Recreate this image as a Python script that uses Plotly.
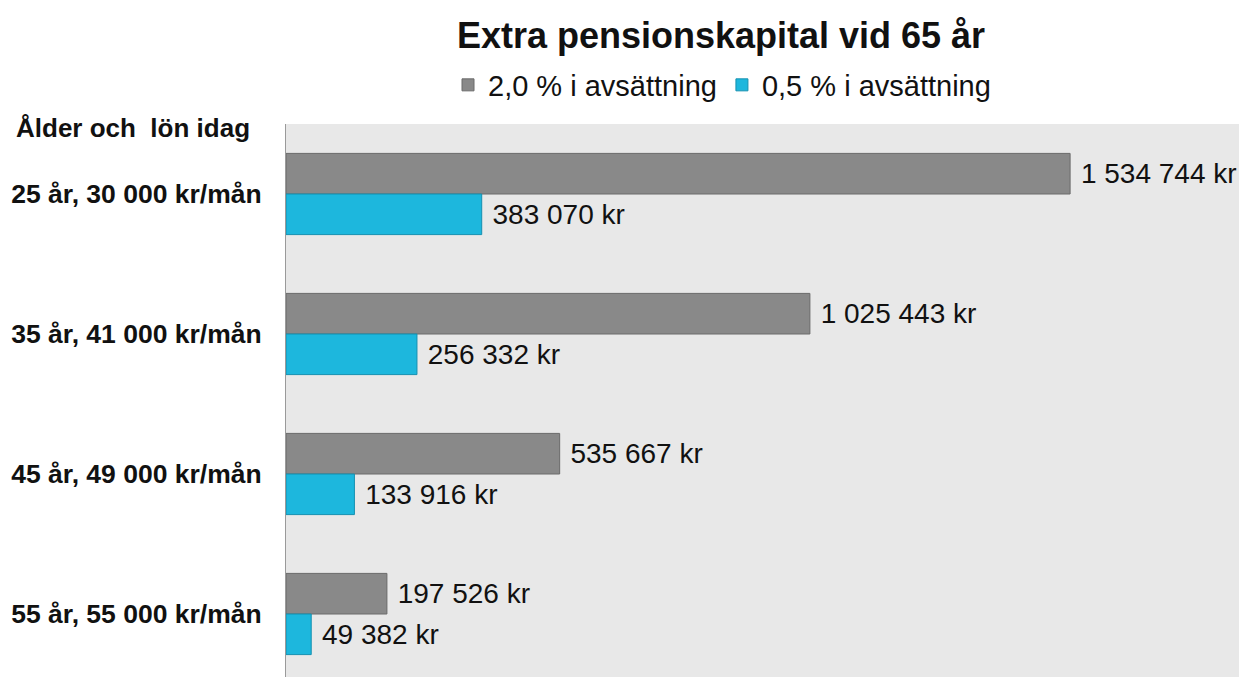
import plotly.graph_objects as go

categories = ["25 år, 30 000 kr/mån", "35 år, 41 000 kr/mån", "45 år, 49 000 kr/mån", "55 år, 55 000 kr/mån"]
series_names = ["2,0 % i avsättning", "0,5 % i avsättning"]
values_20 = [1534744, 1025443, 535667, 197526]
values_05 = [383070, 256332, 133916, 49382]
colors = ["#898989", "#1db7dd"]
line_colors = ["#6a6a6a", "#1590b0"]

def fmt(v):
    return "\u00a0" + f"{v:,}".replace(",", " ") + " kr"

W, H = 1239, 669  # page body has 8px margin

fig = go.Figure()
for name, vals, c, lc in zip(series_names, [values_20, values_05], colors, line_colors):
    fig.add_trace(go.Bar(
        y=categories, x=vals, name=name, orientation="h",
        marker=dict(color=c, line=dict(color=lc, width=1)),
        text=[fmt(v) for v in vals], textposition="outside",
        textfont=dict(size=28, color="#111111", family="Liberation Sans, Arial"),
        cliponaxis=False,
    ))

fig.update_layout(
    width=W, height=H,
    margin=dict(l=278, r=0, t=116, b=0, autoexpand=False),
    paper_bgcolor="white", plot_bgcolor="#e8e8e8",
    font=dict(family="Liberation Sans, Arial", color="#111111"),
    barmode="group", bargap=0.42, bargroupgap=0,
    title=dict(text="<b>Extra pensionskapital vid 65 år</b>", x=(721 - 8)/W, xanchor="center",
               xref="container", y=1 - 27/H, yref="container", yanchor="middle",
               font=dict(size=36, color="#111111")),
    legend=dict(orientation="h", x=(722 - 286)/961, xanchor="center", y=1 - 77/H, yref="container",
                yanchor="middle", traceorder="normal",
                font=dict(size=29, color="#111111"), itemwidth=30),
    showlegend=True,
)
fig.update_xaxes(range=[0, 1881000], showticklabels=False, showgrid=False, zeroline=False,
                 fixedrange=True)
fig.update_yaxes(range=[3.45, -0.5], showgrid=False, zeroline=False,
                 showline=True, linecolor="#9a9a9a", linewidth=1,
                 tickmode="array", tickvals=categories,
                 ticktext=[f"<b>{c}</b>" for c in categories],
                 tickfont=dict(size=26.5, color="#111111"), ticks="", ticklabelstandoff=18)
fig.add_annotation(text="<b>Ålder och  lön idag</b>", xref="paper", yref="paper",
                   x=(14 - 286)/961, xanchor="left", y=1 + (124-128)/553, yanchor="middle",
                   showarrow=False, font=dict(size=26, color="#111111"))
fig.write_html("out.html")
